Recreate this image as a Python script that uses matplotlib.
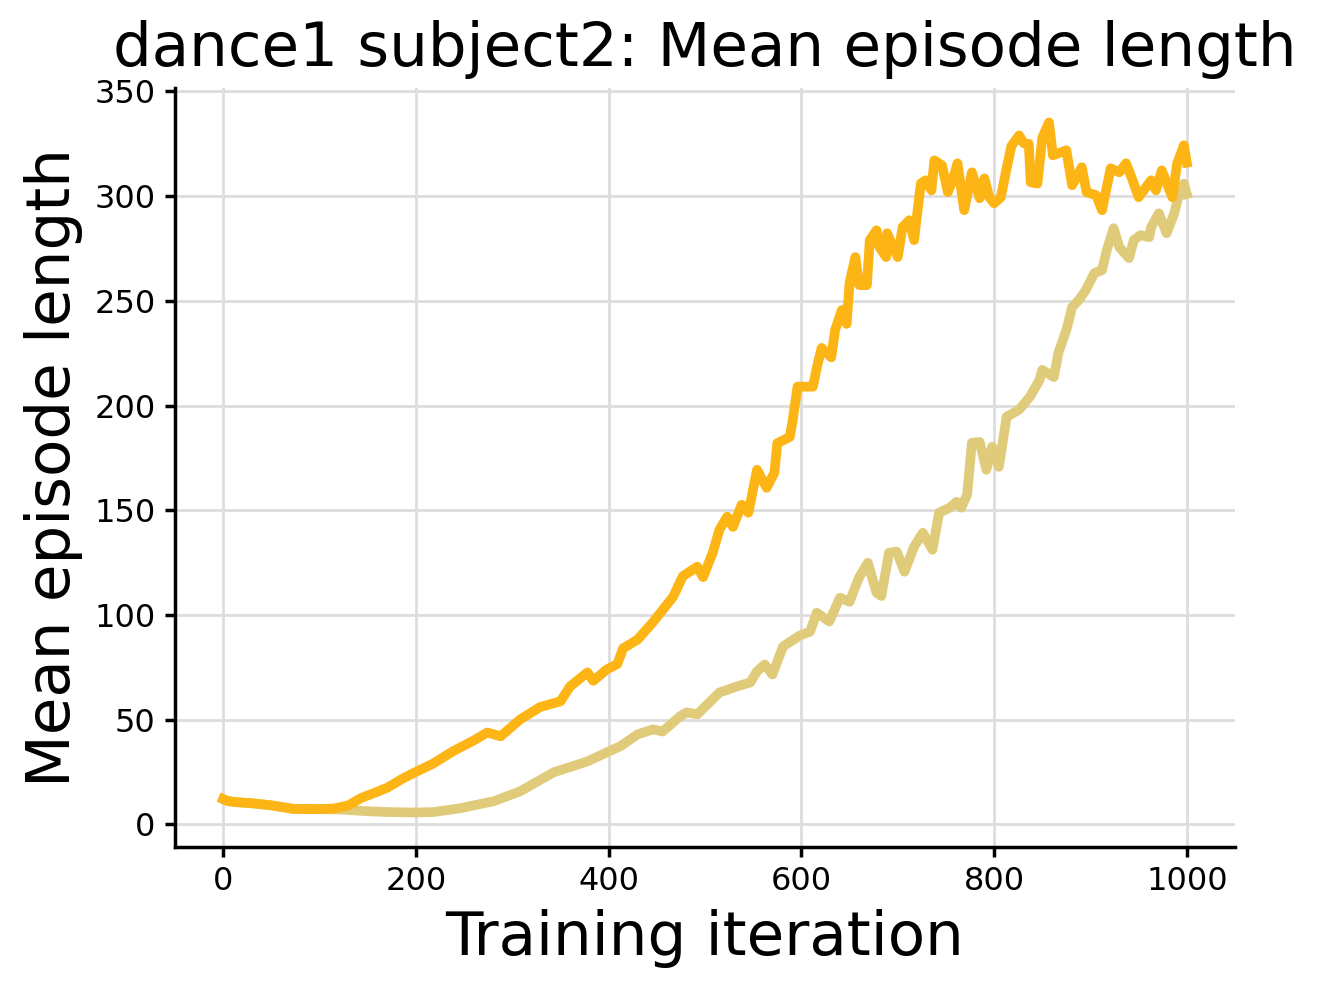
import matplotlib
matplotlib.use("Agg")
import matplotlib.pyplot as plt

gold_x = [0, 5, 15, 30, 50, 73, 100, 115, 130, 143, 160, 171, 185, 200, 218, 239, 260, 274, 288,
          308, 329, 350, 360, 378, 384, 398, 409, 415, 430, 446, 467, 477, 492, 498, 508, 515,
          523, 529, 538, 545, 554, 564, 572, 575, 588, 591, 596, 612, 616, 621, 631, 635, 642,
          647, 650, 656, 660, 668, 671, 678, 681, 688, 689, 700, 705, 712, 717, 721, 724, 729,
          735, 738, 746, 752, 757, 762, 769, 777, 785, 790, 795, 800, 807, 813, 818, 826, 831,
          836, 838, 845, 850, 857, 861, 875, 881, 891, 896, 906, 912, 921, 930, 937, 945, 950,
          963, 968, 974, 985, 990, 997, 1000]
gold_y = [12, 11, 10.5, 10, 9, 7.3, 7.2, 7.5, 9, 12.5, 15.5, 17.6, 21.5, 25, 29, 35, 40, 43.8, 42,
          50, 56, 58.7, 65.8, 72.5, 68.5, 73.9, 76.5, 84, 88.2, 96.5, 108.7, 118.5, 123, 118, 129.7, 140.7,
          146.9, 142, 152.6, 148.8, 169.3, 160.7, 167.9, 182, 185, 193, 209, 209, 218, 227.5, 223, 236, 245.6,
          239, 258.5, 270.9, 257.5, 257.5, 279, 283.7, 275.6, 270.9, 282.3, 270.9, 285.2, 288.5, 279, 294.7, 306.1, 307.6,
          302.8, 317.1, 314.7, 301.9, 307.6, 315.7, 293.3, 311.4, 299, 308.5, 299.5, 296.6, 299.5, 313.3, 324, 329, 325.2,
          325, 306.6, 306, 328, 335.2, 319.5, 321.9, 305.2, 313.8, 301.9, 300.4, 293.3, 313.3, 311.4, 315.7, 306, 299.5,
          307.6, 302.8, 312.3, 299.5, 315.7, 324.3, 316]

wheat_x = [0, 5, 15, 30, 50, 73, 100, 122, 150, 171, 200, 218, 246, 260, 281, 308, 343, 378, 398,
           412, 430, 446, 456, 474, 481, 492, 515, 533, 547, 554, 562, 570, 581, 598, 609, 616, 629,
           640, 650, 660, 669, 678, 683, 691, 699, 707, 717, 726, 736, 743, 754, 761, 766, 772, 777,
           785, 792, 798, 805, 813, 826, 837, 847, 850, 862, 867, 875, 881, 888, 895, 904, 912, 917,
           924, 930, 940, 945, 952, 961, 963, 971, 979, 987, 992, 997, 1000]
wheat_y = [12, 11, 10.5, 10, 9, 7.3, 7.2, 7.0, 6.2, 5.8, 5.6, 5.8, 7.6, 9, 11, 15.7, 24.8, 30, 34.3,
           37.2, 42.9, 45.3, 44.3, 51.5, 53.4, 52.5, 62.9, 65.8, 67.7, 73, 76.3, 71.5, 84.9, 90, 92, 101, 96.8,
           108.2, 106.3, 118, 124.9, 110.6, 109, 129.7, 130.2, 120.6, 132.6, 139.2, 131.1, 148.8, 151.2, 154, 151.2, 157.4, 182.2,
           182.6, 169.3, 180.3, 170.7, 194.6, 198, 204.1, 212, 217, 213.6, 225.6, 236, 247, 250.4, 255, 263.2, 264.7, 274.2,
           284.7, 275.6, 270.4, 279, 281.4, 280.4, 285.2, 291.8, 282.3, 291.8, 301.4, 306, 301]

title = "dance1 subject2: Mean episode length"
xlabel = "Training iteration"
ylabel = "Mean episode length"

fig = plt.figure(figsize=(6.595, 4.97), dpi=200)
ax = fig.add_axes([0.1327, 0.1479, 0.8036, 0.7636])
ax.plot(wheat_x, wheat_y, color="#E0CB7B", lw=3.5, solid_joinstyle="round")
ax.plot(gold_x, gold_y, color="#FDB515", lw=3.5, solid_joinstyle="round")
ax.grid(True, color="#dddddd", lw=1)
ax.set_axisbelow(True)
for s in ["top", "right"]:
    ax.spines[s].set_visible(False)
for s in ["left", "bottom"]:
    ax.spines[s].set_linewidth(1.25)
ax.tick_params(labelsize=11.5, width=1.25)
ax.set_title(title, fontsize=22, pad=8)
ax.set_xlabel(xlabel, fontsize=22)
ax.set_ylabel(ylabel, fontsize=22)
fig.savefig("out.png", dpi=200)
